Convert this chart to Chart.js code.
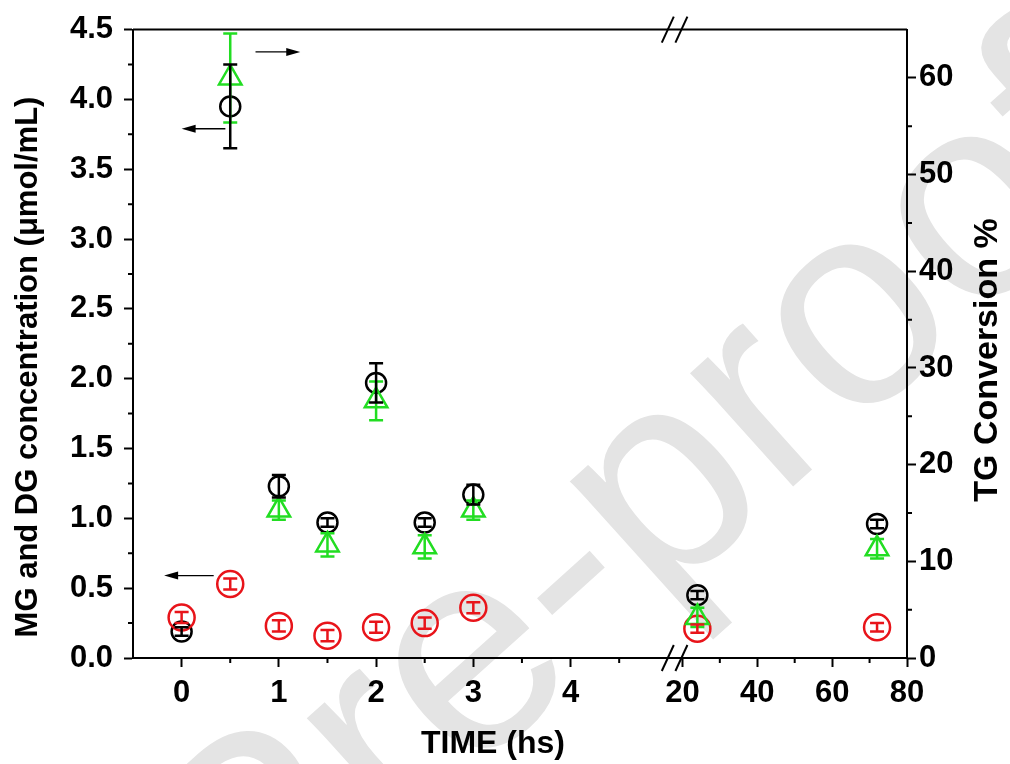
<!DOCTYPE html>
<html lang="en">
<head>
<meta charset="UTF-8">
<title>MG/DG concentration and TG conversion</title>
<script src="https://cdn.jsdelivr.net/npm/chart.js"></script>
<style>
  body { margin: 0; background: #fff; }
</style>
</head>
<body>
<canvas id="chart" width="1010" height="764"></canvas>
<script>
// sampling times (h) and values
var times = [0, 0.5, 1, 1.5, 2, 2.5, 3, 24, 72];
var blackConc = [0.19, 3.95, 1.23, 0.97, 1.97, 0.97, 1.17, 0.45, 0.96];
var blackErr  = [0.03, 0.30, 0.08, 0.03, 0.14, 0.03, 0.07, 0.03, 0.03];
var redConc = [0.29, 0.53, 0.23, 0.16, 0.22, 0.25, 0.36, 0.21, 0.22];
var redErr  = [0.04, 0.04, 0.04, 0.04, 0.04, 0.04, 0.04, 0.03, 0.03];
var tgTimes = [0.5, 1, 1.5, 2, 2.5, 3, 24, 72];
var tgConv  = [60.0, 15.3, 11.7, 26.6, 11.5, 15.3, 4.2, 11.3];
var tgErr   = [4.6, 1.0, 1.2, 2.0, 1.2, 1.0, 1.0, 1.0];

var xMajor = [0, 1, 2, 3, 4, 20, 40, 60, 80];
var xMinor = [0.5, 1.5, 2.5, 3.5, 4.5, 30, 50, 70];
var yLeftMinor = [0.25, 0.75, 1.25, 1.75, 2.25, 2.75, 3.25, 3.75, 4.25];
var yRightMinor = [5, 15, 25, 35, 45, 55];

var leftTitle = 'MG and DG concentration (\u03bcmol/mL)';
var rightTitle = 'TG Conversion %';
var bottomTitle = 'TIME (hs)';

// broken time axis: 0-5 h linear, then 20-80 h compressed
function xPos(t) {
  return t <= 5 ? t : 5.15 + (t - 20) * 0.0385;
}

function pts(xs, ys) {
  return xs.map(function (t, i) { return {x: xPos(t), y: ys[i]}; });
}

// little arrows telling which axis a series belongs to (data units)
var arrows = [
  {from: 0.76, to: 1.22, y: 4.34},
  {from: 0.45, to: 0.0, y: 3.79},
  {from: 0.33, to: -0.18, y: 0.59}
];

var FAMILY = "'Liberation Sans', Arial, sans-serif";

var extras = {
  id: 'extras',
  beforeDraw: function (chart) {
    // journal watermark
    var ctx = chart.ctx;
    ctx.save();
    ctx.fillStyle = '#e4e4e4';
    ctx.font = '290px ' + FAMILY;
    ctx.translate(570, 582);
    ctx.rotate(-42 * Math.PI / 180);
    ctx.fillText('Journal Pre-proof', -5.28 * 290, 0.27 * 290);
    ctx.restore();
  },
  afterDraw: function (chart) {
    var ctx = chart.ctx;
    var a = chart.chartArea;
    var x = chart.scales.x, yl = chart.scales.y, yr = chart.scales.y1;
    ctx.save();
    ctx.strokeStyle = '#000';
    ctx.fillStyle = '#000';
    ctx.lineWidth = 2;
    // top frame
    ctx.beginPath();
    ctx.moveTo(a.left, a.top);
    ctx.lineTo(a.right, a.top);
    ctx.stroke();
    // minor ticks
    ctx.beginPath();
    xMinor.forEach(function (t) {
      var px = x.getPixelForValue(xPos(t));
      ctx.moveTo(px, a.bottom);
      ctx.lineTo(px, a.bottom + 5);
    });
    yLeftMinor.forEach(function (v) {
      var py = yl.getPixelForValue(v);
      ctx.moveTo(a.left, py);
      ctx.lineTo(a.left - 5, py);
    });
    yRightMinor.forEach(function (v) {
      var py = yr.getPixelForValue(v);
      ctx.moveTo(a.right, py);
      ctx.lineTo(a.right + 5, py);
    });
    ctx.stroke();
    // axis break marks
    [5.0, 5.14].forEach(function (u) {
      var px = x.getPixelForValue(u);
      [a.top, a.bottom].forEach(function (py) {
        ctx.beginPath();
        ctx.moveTo(px - 6, py + 13);
        ctx.lineTo(px + 6, py - 13);
        ctx.stroke();
      });
    });
    // arrows
    ctx.lineWidth = 1.3;
    arrows.forEach(function (ar) {
      var x0 = x.getPixelForValue(ar.from), x1 = x.getPixelForValue(ar.to);
      var py = yl.getPixelForValue(ar.y);
      var dir = x1 > x0 ? 1 : -1;
      ctx.beginPath();
      ctx.moveTo(x0, py);
      ctx.lineTo(x1 - dir * 10, py);
      ctx.stroke();
      ctx.beginPath();
      ctx.moveTo(x1, py);
      ctx.lineTo(x1 - dir * 14, py - 4);
      ctx.lineTo(x1 - dir * 14, py + 4);
      ctx.closePath();
      ctx.fill();
    });
    // axis titles
    ctx.textAlign = 'center';
    ctx.textBaseline = 'middle';
    ctx.font = 'bold 31px ' + FAMILY;
    ctx.save();
    ctx.translate(28, 367);
    ctx.rotate(-Math.PI / 2);
    ctx.fillText(leftTitle, 0, 0);
    ctx.restore();
    ctx.font = 'bold 34px ' + FAMILY;
    ctx.save();
    ctx.translate(988, 360);
    ctx.rotate(-Math.PI / 2);
    ctx.fillText(rightTitle, 0, 0);
    ctx.restore();
    ctx.font = 'bold 32px ' + FAMILY;
    ctx.fillText(bottomTitle, 493, 744);
    ctx.restore();
  },
  afterDatasetsDraw: function (chart) {
    // error bars
    var ctx = chart.ctx;
    ctx.save();
    ctx.lineWidth = 2.5;
    chart.data.datasets.forEach(function (ds) {
      var ys = chart.scales[ds.yAxisID];
      ctx.strokeStyle = ds.borderColor;
      ds.data.forEach(function (p, j) {
        var e = ds.errors[j];
        var px = chart.scales.x.getPixelForValue(p.x);
        var t = ys.getPixelForValue(p.y + e), b = ys.getPixelForValue(p.y - e);
        ctx.beginPath();
        ctx.moveTo(px, t); ctx.lineTo(px, b);
        ctx.moveTo(px - 7, t); ctx.lineTo(px + 7, t);
        ctx.moveTo(px - 7, b); ctx.lineTo(px + 7, b);
        ctx.stroke();
      });
    });
    ctx.restore();
  }
};

var tickFont = { family: FAMILY, size: 31, weight: 'bold' };

new Chart(document.getElementById('chart'), {
  type: 'scatter',
  data: {
    datasets: [{
      label: 'TG conversion',
      data: pts(tgTimes, tgConv),
      errors: tgErr,
      yAxisID: 'y1',
      order: 0,
      pointStyle: 'triangle',
      pointRadius: 13,
      borderColor: '#22dd22',
      backgroundColor: 'rgba(0,0,0,0)',
      borderWidth: 2.5
    }, {
      label: 'red series',
      data: pts(times, redConc),
      errors: redErr,
      yAxisID: 'y',
      order: 1,
      pointStyle: 'circle',
      pointRadius: 13,
      borderColor: '#e8141a',
      backgroundColor: 'rgba(0,0,0,0)',
      borderWidth: 2.5
    }, {
      label: 'black series',
      data: pts(times, blackConc),
      errors: blackErr,
      yAxisID: 'y',
      order: 2,
      pointStyle: 'circle',
      pointRadius: 10,
      borderColor: '#000000',
      backgroundColor: 'rgba(0,0,0,0)',
      borderWidth: 2.5
    }]
  },
  options: {
    responsive: false,
    animation: false,
    layout: { padding: { top: 28 } },
    plugins: { legend: { display: false }, tooltip: { enabled: false } },
    scales: {
      x: {
        type: 'linear',
        position: 'bottom',
        min: -0.5,
        max: xPos(80),
        afterBuildTicks: function (s) {
          s.ticks = xMajor.map(function (t) { return {value: xPos(t)}; });
        },
        afterFit: function (s) { s.height = 106; },
        ticks: {
          autoSkip: false,
          maxRotation: 0,
          padding: 8,
          color: '#000',
          font: tickFont,
          callback: function (v, i) { return String(xMajor[i]); }
        },
        grid: { drawOnChartArea: false, tickLength: 9, tickWidth: 2, tickColor: '#000' },
        border: { color: '#000', width: 2 }
      },
      y: {
        position: 'left',
        min: 0,
        max: 4.5,
        ticks: {
          stepSize: 0.5,
          padding: 11,
          color: '#000',
          font: tickFont,
          callback: function (v) { return v.toFixed(1); }
        },
        afterFit: function (s) { s.width = 133; },
        grid: { drawOnChartArea: false, tickLength: 9, tickWidth: 2, tickColor: '#000' },
        border: { color: '#000', width: 2 }
      },
      y1: {
        position: 'right',
        min: 0,
        max: 65,
        afterBuildTicks: function (s) {
          s.ticks = [0, 10, 20, 30, 40, 50, 60].map(function (v) { return {value: v}; });
        },
        afterFit: function (s) { s.width = 103; },
        ticks: {
          padding: 3,
          color: '#000',
          font: tickFont
        },
        grid: { drawOnChartArea: false, tickLength: 9, tickWidth: 2, tickColor: '#000' },
        border: { color: '#000', width: 2 }
      }
    }
  },
  plugins: [extras]
});
</script>
</body>
</html>
